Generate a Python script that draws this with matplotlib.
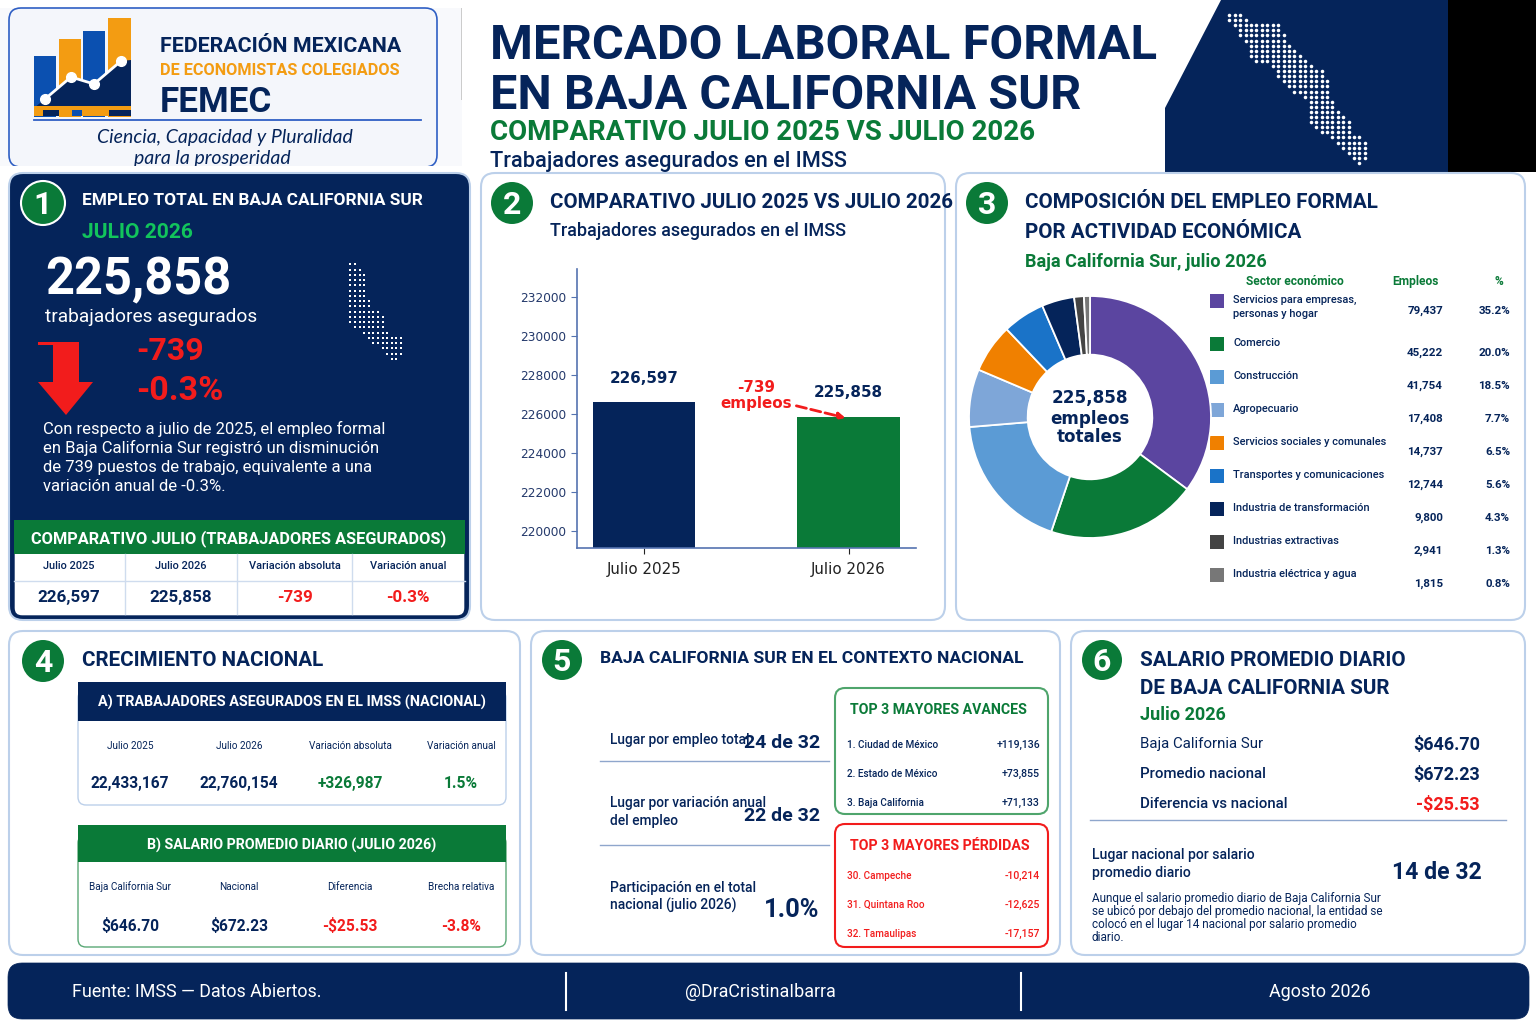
from matplotlib import use
use("AGG")
from matplotlib import pyplot as plt
from matplotlib.patches import FancyBboxPatch, Polygon, Circle, Rectangle
import numpy as np

NAVY = "#05245a"
GREEN = "#0a7a38"
RED = "#f21c1c"
EDGE = "#bcd0ea"
FONT = ["Roboto", "DejaVu Sans"]

# bars
bar_labels = ["Julio 2025", "Julio 2026"]
bar_values = [226597, 225858]
bar_ticks = [220000, 222000, 224000, 226000, 228000, 230000, 232000]

# donut and its table
sectors = ["Servicios para empresas,\npersonas y hogar", "Comercio", "Construcción", "Agropecuario",
	"Servicios sociales y comunales", "Transportes y comunicaciones", "Industria de transformación",
	"Industrias extractivas", "Industria eléctrica y agua"]
sector_jobs = [79437, 45222, 41754, 17408, 14737, 12744, 9800, 2941, 1815]
sector_pct = ["35.2%", "20.0%", "18.5%", "7.7%", "6.5%", "5.6%", "4.3%", "1.3%", "0.8%"]
sector_colors = ["#5b45a0", "#0a7a38", "#5b9bd5", "#7ea6d8", "#f08000", "#1a73c8", "#05245a", "#444444", "#777777"]

# small tables
comp_heads = ["Julio 2025", "Julio 2026", "Variación absoluta", "Variación anual"]
comp_vals = ["226,597", "225,858", "-739", "-0.3%"]
nat_vals = ["22,433,167", "22,760,154", "+326,987", "1.5%"]
sal_heads = ["Baja California Sur", "Nacional", "Diferencia", "Brecha relativa"]
sal_vals = ["$646.70", "$672.23", "-$25.53", "-3.8%"]
top_gain = [("1. Ciudad de México", "+119,136"), ("2. Estado de México", "+73,855"), ("3. Baja California", "+71,133")]
top_loss = [("30. Campeche", "-10,214"), ("31. Quintana Roo", "-12,625"), ("32. Tamaulipas", "-17,157")]

# dotted peninsula: one (start, end) per row
map_rows = [(230, 280), (230, 295), (250, 385), (262, 395), (262, 410), (280, 410), (295, 425), (295, 445),
	(295, 460), (310, 465), (365, 490), (375, 520), (378, 525), (395, 540), (410, 540), (425, 540), (460, 540),
	(470, 545), (470, 555), (470, 565), (470, 590), (470, 605), (490, 605), (505, 605), (535, 625), (550, 640),
	(570, 655), (590, 655), (605, 655), (618, 630)]
mini_rows = [(1040, 1048), (1040, 1075), (1040, 1080), (1040, 1092), (1040, 1092), (1040, 1092), (1040, 1092),
	(1040, 1092), (1040, 1108), (1040, 1108), (1040, 1135), (1040, 1160), (1040, 1160), (1055, 1160), (1090, 1175),
	(1105, 1205), (1120, 1210), (1140, 1210), (1155, 1210), (1172, 1190)]

fig = plt.figure(figsize=(15.36, 10.24), dpi=100)
ax = fig.add_axes([0, 0, 1, 1])
ax.set_xlim(0, 1536)
ax.set_ylim(1024, 0)
ax.axis("off")


def txt(x, y, s, px, color=NAVY, weight="normal", ha="left", family=FONT, **kw):
	# y is the baseline, size is in pixels
	return ax.text(x, y, s, fontsize=px * 0.72, color=color, fontweight=weight, ha=ha, va="baseline", family=family, **kw)


def box(x0, y0, x1, y1, fc="white", ec=EDGE, r=14, lw=1.5, z=1):
	p = FancyBboxPatch((x0, y0), x1 - x0, y1 - y0, boxstyle=f"round,pad=0,rounding_size={r}", fc=fc, ec=ec, lw=lw, zorder=z)
	ax.add_patch(p)


def rect(x0, y0, x1, y1, fc, z=2):
	ax.add_patch(Rectangle((x0, y0), x1 - x0, y1 - y0, fc=fc, ec="none", zorder=z))


def badge(x, y, n, r=21, ec="none", z=3):
	ax.add_patch(Circle((x, y), r, fc=GREEN, ec=ec, lw=1.5, zorder=z))
	ax.text(x, y + 11, n, fontsize=23, color="white", fontweight="bold", ha="center", va="baseline", family=FONT, zorder=z + 1)


def dots(rows, x0, y0, x1, y1, step, s, marker="o", z=3):
	lo = min(r[0] for r in rows)
	hi = max(r[1] for r in rows)
	xs, ys = [], []
	for i, (a, b) in enumerate(rows):
		# snap to a grid so the columns line up
		for c in np.arange(np.ceil(a / step) * step, b + 1, step):
			xs.append(x0 + (c - lo) / (hi - lo) * (x1 - x0))
			ys.append(y0 + i / (len(rows) - 1) * (y1 - y0))
	ax.scatter(xs, ys, s=s, c="white", marker=marker, linewidths=0, zorder=z)


# logo block
rect(0, 8, 462, 166, "#f8f9fc", z=0)
box(9, 8, 437, 167, fc="#f4f6fb", ec="#2f5fc4", r=12, lw=1.2)
rect(461, 8, 462, 100, "#cccccc")
rect(34, 56, 56, 117, "#0b50b0")
rect(59, 39, 81, 117, "#f39c12")
rect(83, 31, 105, 117, "#0b50b0")
rect(108, 18, 131, 117, "#f39c12")
ax.add_patch(Polygon([(34, 108), (45, 99), (71, 77), (94, 84), (121, 61), (131, 60), (131, 107), (34, 107)], fc=NAVY, ec="none", zorder=3))
rect(34, 106, 131, 116, "#f39c12", z=3)
rect(43, 110, 59, 116, NAVY, z=4)
rect(72, 110, 82, 116, "#0b50b0", z=4)
rect(109, 110, 131, 116, NAVY, z=4)
ax.plot([45, 71, 94, 121], [99, 77, 84, 61], color="white", lw=2, marker="o", ms=7, zorder=5)
ax.plot([34, 421], [119.5, 119.5], color="#2f5fc4", lw=1.3, zorder=3)
txt(160, 52, "FEDERACIÓN MEXICANA", 21.4, NAVY, "bold", zorder=4)
txt(160, 75, "DE ECONOMISTAS COLEGIADOS", 16.3, "#f39c12", "bold", zorder=4)
txt(160, 112, "FEMEC", 35, NAVY, "bold", zorder=4)
txt(97, 143, "Ciencia, Capacidad y Pluralidad", 19.5, NAVY, style="italic", family=["Lato"], zorder=4)
txt(134, 164, "para la prosperidad", 19.5, NAVY, style="italic", family=["Lato"], zorder=4)
rect(0, 166, 480, 173, "white", z=5)

# header
txt(490, 59, "MERCADO LABORAL FORMAL", 49, NAVY, "bold")
txt(490, 109, "EN BAJA CALIFORNIA SUR", 48.5, NAVY, "bold")
txt(490, 140, "COMPARATIVO JULIO 2025 VS JULIO 2026", 27.7, GREEN, "bold")
txt(490, 167, "Trabajadores asegurados en el IMSS", 21.8, NAVY, "medium")
ax.add_patch(Polygon([(1165, 108), (1221, 0), (1448, 0), (1448, 172), (1165, 172)], fc=NAVY, ec="none", zorder=1))
rect(1448, 0, 1536, 172, "black", z=1)
dots(map_rows, 1226, 15, 1370, 163, 16, 6.5)

# panel 1
box(9, 173, 470, 620, fc=NAVY, z=6)
badge(43, 203, "1", r=22, ec="white", z=7)
PANEL = {"zorder": 7}
txt(82, 205, "EMPLEO TOTAL EN BAJA CALIFORNIA SUR", 17.3, "white", "bold", **PANEL)
txt(82, 238, "JULIO 2026", 21, "#12c45c", "bold", **PANEL)
txt(45, 294, comp_vals[1], 50.5, "white", "bold", **PANEL)
txt(45, 322, "trabajadores asegurados", 19.2, "white", **PANEL)
txt(136, 360, comp_vals[2], 32, RED, "bold", **PANEL)
txt(136, 400, comp_vals[3], 34, RED, "bold", **PANEL)
ax.add_patch(Polygon([(38, 342), (79, 342), (79, 382), (93, 382), (66, 415), (38, 382), (53, 382), (53, 345), (38, 345)], fc=RED, ec="none", zorder=7))
body = ["Con respecto a julio de 2025, el empleo formal", "en Baja California Sur registró un disminución",
	"de 739 puestos de trabajo, equivalente a una", "variación anual de -0.3%."]
for i, line in enumerate(body):
	txt(43, 434 + i * 19, line, 16.6, "white", **PANEL)
dots(mini_rows, 347, 259, 403, 359, 14, 3.2, marker="s", z=7)
box(14, 520, 465, 616, fc="white", ec=NAVY, r=8, lw=1, z=7)
rect(14, 520, 465, 554, GREEN, z=7)
txt(239, 543, "COMPARATIVO JULIO (TRABAJADORES ASEGURADOS)", 16.4, "white", "bold", ha="center", zorder=8)
for x in [125, 237, 352]:
	ax.plot([x, x], [554, 614], color="#cfdcee", lw=1, zorder=8)
ax.plot([14, 465], [581, 581], color="#cfdcee", lw=1, zorder=8)
for x, h, v, c in zip([69, 181, 295, 408], comp_heads, comp_vals, [NAVY, NAVY, RED, RED]):
	txt(x, 569, h, 11, NAVY, "medium", ha="center", zorder=8)
	txt(x, 602, v, 17, c, "bold", ha="center", zorder=8)

# panel 2
box(481, 173, 945, 620)
badge(512, 203, "2")
txt(550, 208, "COMPARATIVO JULIO 2025 VS JULIO 2026", 20.5, NAVY, "bold", zorder=4)
txt(550, 236, "Trabajadores asegurados en el IMSS", 18, NAVY, "medium", zorder=4)

bx0, bx1, by0, by1 = 577, 916, 269, 548
bar_ax = fig.add_axes([bx0 / 1536, 1 - by1 / 1024, (bx1 - bx0) / 1536, (by1 - by0) / 1024])
bar_ax.patch.set_alpha(0)
bar_ax.bar([0, 1], bar_values, width=0.5, color=[NAVY, GREEN])
bar_ax.set_xlim(-0.328, 1.33)
bar_ax.set_ylim(219126, 233440)
bar_ax.set_xticks([0, 1], bar_labels, fontsize=10.9, color="#222222", family="DejaVu Sans")
bar_ax.set_yticks(bar_ticks)
bar_ax.tick_params(axis="y", labelsize=8.7, labelcolor="#24396b", color="#5573b0", length=4)
bar_ax.tick_params(axis="x", color="#222222", length=4, pad=6)
for side in ["top", "right"]:
	bar_ax.spines[side].set_visible(False)
for side in ["left", "bottom"]:
	bar_ax.spines[side].set_color("#5573b0")
	bar_ax.spines[side].set_linewidth(1.2)
for i, v in enumerate(bar_values):
	bar_ax.annotate(f"{v:,}", (i, v), xytext=(0, 14), textcoords="offset points", ha="center", fontsize=10.9, color=NAVY, fontweight="bold", family="DejaVu Sans")
bar_ax.text(0.55, 226130, "-739\nempleos", ha="center", va="bottom", fontsize=10.9, linespacing=1.15, color=RED, fontweight="bold", family="DejaVu Sans")
bar_ax.annotate("", xy=(0.985, 225800), xytext=(0.745, 226420), arrowprops=dict(arrowstyle="-|>", color=RED, lw=2, linestyle="--", shrinkA=0, shrinkB=0))

# panel 3
box(956, 173, 1525, 620)
badge(987, 203, "3")
txt(1025, 208, "COMPOSICIÓN DEL EMPLEO FORMAL", 20.7, NAVY, "bold", zorder=4)
txt(1025, 238, "POR ACTIVIDAD ECONÓMICA", 20.7, NAVY, "bold", zorder=4)
txt(1025, 267, "Baja California Sur, julio 2026", 18.2, GREEN, "bold", zorder=4)

pie_ax = fig.add_axes([969 / 1536, 1 - 538 / 1024, 242 / 1536, 242 / 1024])
pie_ax.pie(sector_jobs, colors=sector_colors, startangle=90, counterclock=False, radius=1,
	wedgeprops=dict(width=0.485, edgecolor="white", linewidth=1.3))
pie_ax.set_xlim(-1, 1)
pie_ax.set_ylim(-1, 1)
for y, line in zip([403, 424, 442], [f"{sum(sector_jobs):,}", "empleos", "totales"]):
	txt(1090, y, line, 16.8, NAVY, "bold", ha="center", family="DejaVu Sans", zorder=4)

txt(1295, 285, "Sector económico", 12, GREEN, "bold", ha="center", zorder=4)
txt(1415, 285, "Empleos", 12, GREEN, "bold", ha="center", zorder=4)
txt(1499, 285, "%", 12, GREEN, "bold", ha="center", zorder=4)
for i, (name, jobs, pct, col) in enumerate(zip(sectors, sector_jobs, sector_pct, sector_colors)):
	top = 294 if i == 0 else 337 + (i - 1) * 33
	rect(1210, top, 1224, top + 14, col, z=4)
	for j, part in enumerate(name.split("\n")):
		txt(1233, top + 9 + j * 14, part, 11, NAVY, "medium", zorder=4)
	base = 314 if i == 0 else 356 + (i - 1) * 33
	txt(1443, base, f"{jobs:,}", 11.5, NAVY, "bold", ha="right", zorder=4)
	txt(1510, base, pct, 11.5, NAVY, "bold", ha="right", zorder=4)

# panel 4
box(9, 631, 520, 955)
badge(43, 661, "4")
txt(82, 666, "CRECIMIENTO NACIONAL", 20.7, NAVY, "bold", zorder=4)
cols = [130, 239, 350, 461]
box(78, 690, 506, 805, ec=EDGE, r=8, lw=1, z=2)
rect(78, 682, 506, 721, NAVY, z=3)
txt(292, 707, "A) TRABAJADORES ASEGURADOS EN EL IMSS (NACIONAL)", 14.4, "white", "bold", ha="center", zorder=4)
for x, h, v, c in zip(cols, comp_heads, nat_vals, [NAVY, NAVY, GREEN, GREEN]):
	txt(x, 749, h, 10, NAVY, ha="center", zorder=4)
	txt(x, 788, v, 15.5, c, "bold", ha="center", zorder=4)
box(78, 835, 506, 947, ec="#5aa876", r=8, lw=1, z=2)
rect(78, 825, 506, 862, GREEN, z=3)
txt(292, 850, "B) SALARIO PROMEDIO DIARIO (JULIO 2026)", 14.3, "white", "bold", ha="center", zorder=4)
for x, h, v, c in zip(cols, sal_heads, sal_vals, [NAVY, NAVY, RED, RED]):
	txt(x, 890, h, 10, NAVY, ha="center", zorder=4)
	txt(x, 931, v, 15.5, c, "bold", ha="center", zorder=4)

# panel 5
box(531, 631, 1060, 955)
badge(562, 660, "5", r=20)
txt(600, 663, "BAJA CALIFORNIA SUR EN EL CONTEXTO NACIONAL", 17.5, NAVY, "bold", zorder=4)
txt(610, 744, "Lugar por empleo total", 13.7, NAVY, "medium", zorder=4)
txt(820, 748, "24 de 32", 19.5, NAVY, "bold", ha="right", zorder=4)
ax.plot([600, 829], [761, 761], color="#8fa6cc", lw=1, zorder=3)
txt(610, 807, "Lugar por variación anual", 13.7, NAVY, "medium", zorder=4)
txt(610, 825, "del empleo", 13.7, NAVY, "medium", zorder=4)
txt(820, 821, "22 de 32", 19.5, NAVY, "bold", ha="right", zorder=4)
ax.plot([600, 829], [845, 845], color="#8fa6cc", lw=1, zorder=3)
txt(610, 892, "Participación en el total", 13.7, NAVY, "medium", zorder=4)
txt(610, 910, "nacional (julio 2026)", 13.7, NAVY, "medium", zorder=4)
txt(819, 917, "1.0%", 25.5, NAVY, "bold", ha="right", zorder=4)

box(835, 688, 1048, 814, ec="#4fa56c", r=10, lw=1.5, z=2)
txt(850, 714, "TOP 3 MAYORES AVANCES", 14.1, GREEN, "bold", zorder=4)
for y, (a, b) in zip([748, 777, 806], top_gain):
	txt(847, y, a, 10, NAVY, "medium", zorder=4)
	txt(1040, y, b, 10.5, NAVY, "medium", ha="right", zorder=4)
box(835, 824, 1048, 947, ec=RED, r=10, lw=1.5, z=2)
txt(850, 850, "TOP 3 MAYORES PÉRDIDAS", 14.1, RED, "bold", zorder=4)
for y, (a, b) in zip([879, 908, 937], top_loss):
	txt(847, y, a, 10, RED, "medium", zorder=4)
	txt(1040, y, b, 10.5, RED, "medium", ha="right", zorder=4)

# panel 6
box(1071, 631, 1525, 955)
badge(1102, 660, "6", r=20)
txt(1140, 666, "SALARIO PROMEDIO DIARIO", 20.6, NAVY, "bold", zorder=4)
txt(1140, 694, "DE BAJA CALIFORNIA SUR", 20.6, NAVY, "bold", zorder=4)
txt(1140, 720, "Julio 2026", 18, GREEN, "bold", zorder=4)
txt(1140, 748, "Baja California Sur", 15, NAVY, zorder=4)
txt(1480, 750, sal_vals[0], 18, NAVY, "bold", ha="right", zorder=4)
txt(1140, 778, "Promedio nacional", 15, NAVY, "medium", zorder=4)
txt(1480, 780, sal_vals[1], 18, NAVY, "bold", ha="right", zorder=4)
txt(1140, 808, "Diferencia vs nacional", 15, NAVY, "medium", zorder=4)
txt(1480, 810, sal_vals[2], 18, RED, "bold", ha="right", zorder=4)
ax.plot([1090, 1506], [820, 820], color="#8fa6cc", lw=1, zorder=3)
txt(1092, 859, "Lugar nacional por salario", 14, NAVY, "medium", zorder=4)
txt(1092, 877, "promedio diario", 14, NAVY, "medium", zorder=4)
txt(1482, 879, "14 de 32", 23, NAVY, "bold", ha="right", zorder=4)
para = ["Aunque el salario promedio diario de Baja California Sur", "se ubicó por debajo del promedio nacional, la entidad se",
	"colocó en el lugar 14 nacional por salario promedio", "diario."]
for i, line in enumerate(para):
	txt(1092, 902 + i * 13, line, 11.7, NAVY, zorder=4)

# footer
box(8, 963, 1529, 1019, fc=NAVY, ec=NAVY, r=14, lw=0.5)
txt(72, 997, "Fuente: IMSS — Datos Abiertos.", 17.9, "white", zorder=4)
txt(760, 997, "@DraCristinaIbarra", 17.9, "white", ha="center", zorder=4)
txt(1320, 997, "Agosto 2026", 17.9, "white", ha="center", zorder=4)
for x in [566, 1021]:
	ax.plot([x, x], [973, 1010], color="white", lw=1.5, zorder=4)

fig.savefig("out.png", dpi=100)
